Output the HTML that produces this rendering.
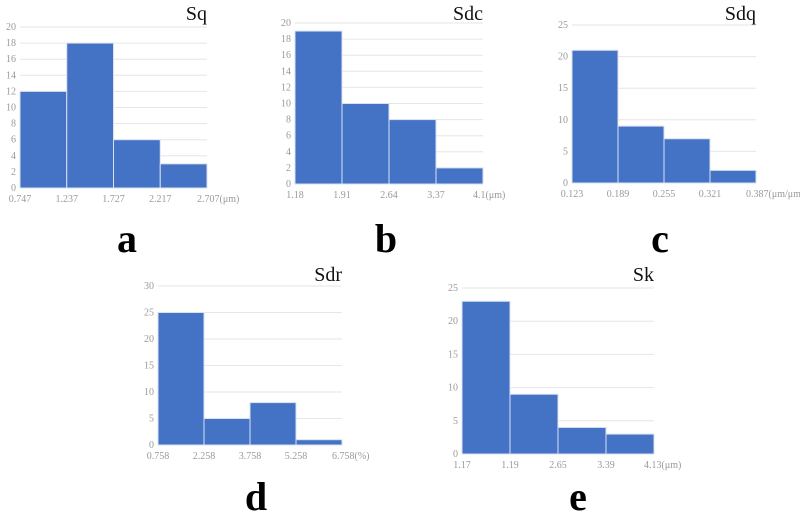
<!DOCTYPE html>
<html><head><meta charset="utf-8">
<style>
html,body{margin:0;padding:0;background:#fff;}
svg{display:block;}
.tick{font-family:"Liberation Serif",serif;font-size:10px;fill:#999;}
.title{font-family:"Liberation Serif",serif;font-size:20px;fill:#111;}
.letter{font-family:"Liberation Serif",serif;font-size:40px;font-weight:bold;fill:#000;}
</style></head>
<body>
<svg id="root" width="800" height="517"></svg>
<script>
// Chart a (Sq)
const sqBins = ["0.747","1.237","1.727","2.217","2.707"];
const sqCounts = [12,18,6,3];
const sqYTicks = [0,2,4,6,8,10,12,14,16,18,20];
// Chart b (Sdc)
const sdcBins = ["1.18","1.91","2.64","3.37","4.1"];
const sdcCounts = [19,10,8,2];
const sdcYTicks = [0,2,4,6,8,10,12,14,16,18,20];
// Chart c (Sdq)
const sdqBins = ["0.123","0.189","0.255","0.321","0.387"];
const sdqCounts = [21,9,7,2];
const sdqYTicks = [0,5,10,15,20,25];
// Chart d (Sdr)
const sdrBins = ["0.758","2.258","3.758","5.258","6.758"];
const sdrCounts = [25,5,8,1];
const sdrYTicks = [0,5,10,15,20,25,30];
// Chart e (Sk)
const skBins = ["1.17","1.19","2.65","3.39","4.13"];
const skCounts = [23,9,4,3];
const skYTicks = [0,5,10,15,20,25];

const NS="http://www.w3.org/2000/svg";
const root=document.getElementById('root');
function mk(tag,attrs,parent){const e=document.createElementNS(NS,tag);for(const k in attrs)e.setAttribute(k,attrs[k]);parent.appendChild(e);return e;}

function chart(id,cfg,bins,counts,yTicks,title,unit,letter){
  const g=mk('g',{},root);
  
  
  const x0=cfg.x0,x1=cfg.x1,yTop=cfg.yTop,yBot=cfg.yBot;
  const ymax=yTicks[yTicks.length-1];
  const ys=v=>yBot-(v/ymax)*(yBot-yTop);
  const n=counts.length;
  const xs=i=>x0+(x1-x0)*i/n;
  yTicks.forEach(t=>{
    const l=mk('line',{x1:x0,x2:x1,y1:ys(t),y2:ys(t),stroke:'#e6e6e6','stroke-width':1},g);
    
    
    const tx=mk('text',{x:x0-4,y:ys(t)+3,'text-anchor':'end',class:'tick'},g);
    tx.textContent=t;
    
    
  });
  counts.forEach((c,i)=>{
    const r=mk('rect',{x:xs(i),y:ys(c),width:xs(i+1)-xs(i),height:yBot-ys(c),fill:'#4472C4',stroke:'#d9e2f3','stroke-width':1},g);
    
    
  });
  bins.forEach((b,i)=>{
    const tx=mk('text',{x:xs(i),y:yBot+14,'text-anchor':'middle',class:'tick'},g);
    tx.textContent=b+(i===bins.length-1?unit:'');
    if(i===bins.length-1){tx.setAttribute('text-anchor','start');tx.setAttribute('x',xs(i)-10);}
    
    
  });
  const tt=mk('text',{x:x1,y:cfg.titleY,'text-anchor':'end',class:'title'},g);
  tt.textContent=title;
  
  
  const lt=mk('text',{x:cfg.lx,y:cfg.ly,'text-anchor':'middle',class:'letter'},g);
  lt.textContent=letter;
  
  
}
chart('a',{x0:20,x1:207,yTop:27,yBot:188,titleY:20,lx:127,ly:252},sqBins,sqCounts,sqYTicks,'Sq','(μm)','a');
chart('b',{x0:295,x1:483,yTop:23,yBot:184,titleY:20,lx:386,ly:252},sdcBins,sdcCounts,sdcYTicks,'Sdc','(μm)','b');
chart('c',{x0:572,x1:756,yTop:25,yBot:183,titleY:20,lx:660,ly:252},sdqBins,sdqCounts,sdqYTicks,'Sdq','(μm/μm)','c');
chart('d',{x0:158,x1:342,yTop:286,yBot:445,titleY:281,lx:256,ly:510},sdrBins,sdrCounts,sdrYTicks,'Sdr','(%)','d');
chart('e',{x0:462,x1:654,yTop:288,yBot:454,titleY:281,lx:578,ly:510},skBins,skCounts,skYTicks,'Sk','(μm)','e');
</script>
</body></html>
